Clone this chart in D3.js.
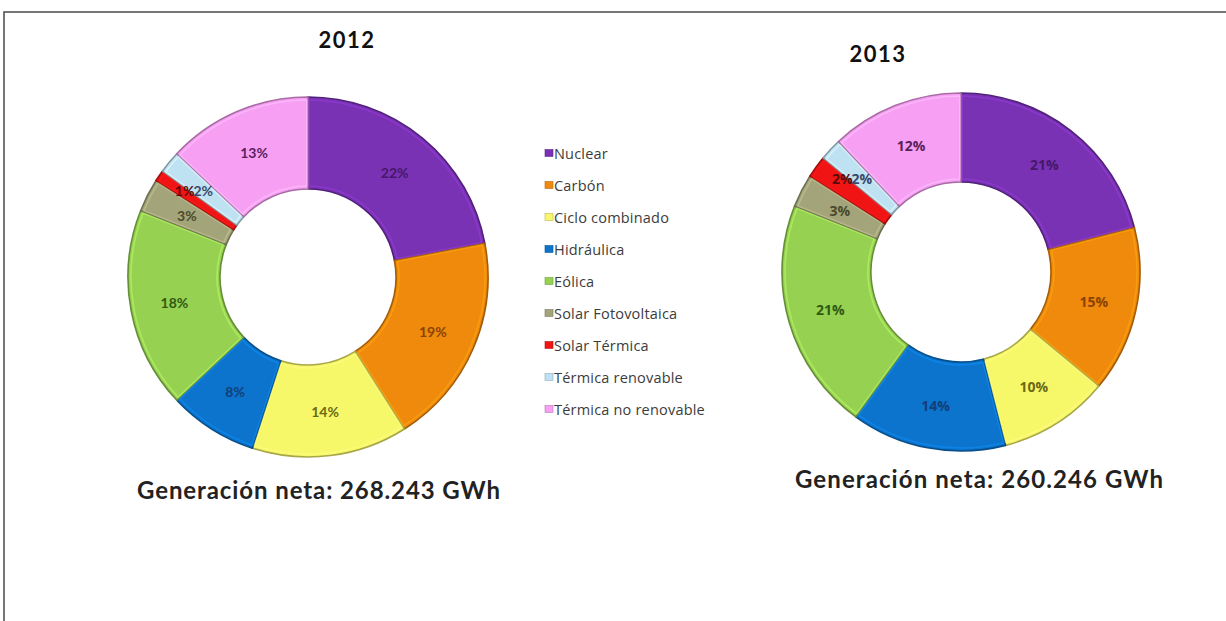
<!DOCTYPE html>
<html>
<head>
<meta charset="utf-8">
<script src="https://cdn.jsdelivr.net/npm/d3@7/dist/d3.min.js"></script>
<style>
  html, body { margin: 0; padding: 0; background: #ffffff; }
  svg { display: block; }
</style>
</head>
<body>
<svg id="chart" width="1226" height="621"></svg>
<script>
// ---------------- DATA ----------------
const categories = [
  "Nuclear", "Carbón", "Ciclo combinado", "Hidráulica", "Eólica",
  "Solar Fotovoltaica", "Solar Térmica", "Térmica renovable", "Térmica no renovable"
];
const values2012 = [22, 19, 14, 8, 18, 3, 1, 2, 13];
const values2013 = [21, 15, 10, 14, 21, 3, 2, 2, 12];
const years = ["2012", "2013"];
const totals = ["Generación neta: 268.243 GWh", "Generación neta: 260.246 GWh"];

// ---------------- STYLE ----------------
const colors = ["#7a32b4", "#f08a0c", "#f7f76a", "#0c74cc", "#97d152",
                "#a3a47a", "#f01414", "#bfe2f3", "#f7a0f3"];
const labelColors = ["#45186a", "#8a4300", "#6a6a14", "#123f78", "#2f5a12",
                     "#4a4a2c", "#5a0a0a", "#3a4a6a", "#5a1f5a"];

const svg = d3.select("#chart");
const W = 1226, H = 621;

// frame
svg.append("rect").attr("x", 4).attr("y", 12).attr("width", W + 10).attr("height", H + 10)
  .attr("fill", "none").attr("stroke", "#4a4a4a").attr("stroke-width", 1.5);

const color = d3.scaleOrdinal().domain(categories).range(colors);
const lcolor = d3.scaleOrdinal().domain(categories).range(labelColors);

const charts = [
  { values: values2012, cx: 308, cy: 277, ro: 180, ri: 88, title: years[0], tx: 347, ty: 48,
    total: totals[0], fx: 318.5, fy: 499, fw: 363, labelFont: "'Lato', 'Open Sans', sans-serif", labelWeight: 700 },
  { values: values2013, cx: 961, cy: 272, ro: 179, ri: 90, title: years[1], tx: 878, ty: 62,
    total: totals[1], fx: 979, fy: 488, fw: 368, labelFont: "'Open Sans', 'Lato', sans-serif", labelWeight: 700 }
];

const pie = d3.pie().sort(null).value(d => d.v);

charts.forEach(c => {
  const data = categories.map((k, i) => ({ k, v: c.values[i] }));
  const arcs = pie(data);
  const g = svg.append("g").attr("transform", `translate(${c.cx},${c.cy})`);
  const arc = d3.arc().innerRadius(c.ri).outerRadius(c.ro);
  const arcInner = d3.arc().innerRadius(c.ri + 3).outerRadius(c.ro - 3).padAngle(0.012);

  g.selectAll("path.slice").data(arcs).join("path")
    .attr("class", "slice")
    .attr("d", arc)
    .attr("fill", d => color(d.data.k))
    .attr("stroke", d => d3.color(color(d.data.k)).darker(1.1))
    .attr("stroke-width", 1.6)
    .attr("stroke-linejoin", "round");

  g.selectAll("path.hl").data(arcs).join("path")
    .attr("class", "hl")
    .attr("d", arcInner)
    .attr("fill", "none")
    .attr("stroke", d => d3.color(color(d.data.k)).brighter(0.6))
    .attr("stroke-opacity", 0.55)
    .attr("stroke-width", 1.6);

  const labelArc = d3.arc().innerRadius(136).outerRadius(136);
  const lab = g.selectAll("text.lab").data(arcs).join("text")
    .attr("class", "lab")
    .attr("text-anchor", "middle")
    .attr("dominant-baseline", "central")
    .attr("font-family", c.labelFont)
    .attr("font-weight", c.labelWeight)
    .attr("font-size", 14)
    .attr("fill", d => lcolor(d.data.k))
    .text(d => d.data.v + "%");

  lab.each(function(d) {
    const [x, y] = labelArc.centroid(d);
    d3.select(this).attr("x", x).attr("y", y);
  });
  const nodes = lab.nodes();
  const iST = categories.indexOf("Solar Térmica");
  const iTR = categories.indexOf("Térmica renovable");
  const tr = d3.select(nodes[iTR]);
  const trX = +tr.attr("x"), trY = +tr.attr("y");
  const trW = nodes[iTR].getComputedTextLength();
  d3.select(nodes[iST]).attr("text-anchor", "end").attr("x", trX - trW / 2 + 1).attr("y", trY);

  // title
  svg.append("text").attr("x", c.tx).attr("y", c.ty)
    .attr("text-anchor", "middle")
    .attr("font-family", "'Lato', 'Open Sans', sans-serif")
    .attr("font-weight", 700).attr("font-size", 22)
    .attr("letter-spacing", 1.5)
    .attr("fill", "#111")
    .text(c.title);

  // total, spaced to the reference width
  const t = svg.append("text").attr("x", c.fx).attr("y", c.fy)
    .attr("text-anchor", "middle")
    .attr("font-family", "'Lato', 'Open Sans', sans-serif")
    .attr("font-weight", 700).attr("font-size", 24)
    .attr("fill", "#222")
    .text(c.total);
  const n = c.total.length;
  const w0 = t.node().getComputedTextLength();
  const ls = (c.fw - w0) / (n - 1);
  t.attr("letter-spacing", ls).attr("x", c.fx + ls / 2);
});

// legend
const legend = svg.append("g").attr("transform", "translate(545,153)");
const rowH = 32;
const items = legend.selectAll("g").data(categories).join("g")
  .attr("transform", (d, i) => `translate(0,${i * rowH})`);
items.append("rect").attr("x", 0).attr("y", -3.5).attr("width", 8).attr("height", 7)
  .attr("fill", d => color(d))
  .attr("stroke", d => d3.color(color(d)).darker(0.8)).attr("stroke-width", 0.6);
items.append("text").attr("x", 9).attr("y", 0)
  .attr("dominant-baseline", "central")
  .attr("font-family", "'Open Sans', 'Lato', sans-serif")
  .attr("font-size", 14.5)
  .attr("letter-spacing", 0.2)
  .attr("fill", "#3c3c3c")
  .text(d => d);
</script>
</body>
</html>
